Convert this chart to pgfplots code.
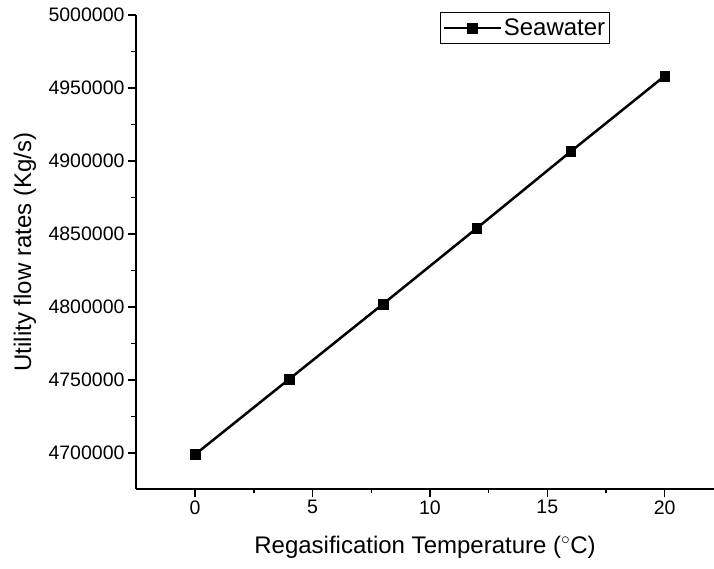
\documentclass[border=0pt]{standalone}
\usepackage{fontspec}
\setmainfont{Liberation Sans}
\usepackage{pgfplots}
\pgfplotsset{compat=1.18}
\begin{document}
\begin{tikzpicture}
\begin{axis}[
  scale only axis,
  width=578pt, height=474pt,
  at={(0pt,0pt)}, anchor=south west,
  xmin=-2.52, xmax=22.1,
  ymin=4675300, ymax=5000000,
  axis lines=left,
  axis line style={-, line width=1.4pt},
  tick align=outside,
  tick style={line width=1.4pt, black},
  major tick length=8pt,
  minor tick length=4.5pt,
  xtick={0,5,10,15,20},
  ytick={4700000,4750000,4800000,4850000,4900000,4950000,5000000},
  minor x tick num=1,
  minor y tick num=1,
  scaled y ticks=false,
  /pgf/number format/assume math mode=true,
  yticklabel style={/pgf/number format/fixed, /pgf/number format/1000 sep={}, font=\fontsize{19.5}{23}\selectfont},
  xticklabel style={font=\fontsize{19.5}{23}\selectfont},
  xlabel={Regasification Temperature ($^\circ$C)},
  ylabel={Utility flow rates (Kg/s)},
  label style={font=\fontsize{24}{28}\selectfont},
  xlabel style={at={(axis description cs:0.5,-0.124)}, anchor=center},
  ylabel style={at={(axis description cs:-0.192,0.5)}, anchor=center},
  legend style={at={(0.526,1.006)}, anchor=north west, draw=black, line width=0.8pt,
    font=\fontsize{24}{28}\selectfont, inner xsep=2pt, inner ysep=4.5pt, row sep=0pt},
  legend cell align=left,
  legend image code/.code={\draw[mark repeat=2, mark phase=2, line width=2.5pt] plot coordinates {(0cm,0cm) (1cm,0cm) (2cm,0cm)};},
]
\addplot[black, line width=2.5pt, mark=square*, mark size=4.8pt, mark options={solid, line width=0.5pt}]
  coordinates {(0,4699000) (4,4750500) (8,4802000) (12,4854000) (16,4906500) (20,4958200)};
\addlegendentry{Seawater}
\end{axis}
\pgfresetboundingbox
\useasboundingbox (-136pt,-80pt) rectangle (578pt,489pt);
\end{tikzpicture}
\end{document}
